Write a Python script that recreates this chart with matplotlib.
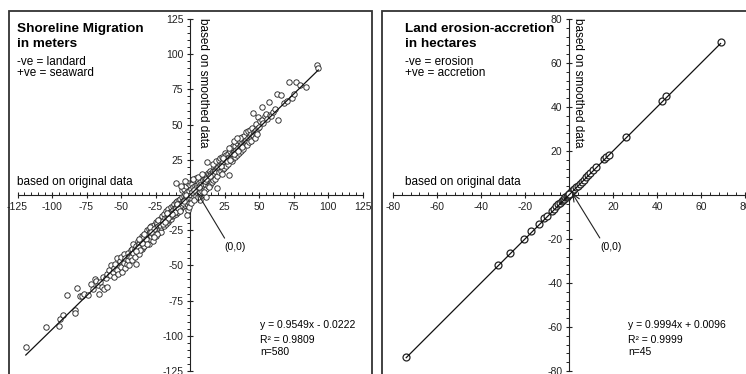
import matplotlib
matplotlib.use("Agg")
import matplotlib.pyplot as plt
from matplotlib.patches import Rectangle
from matplotlib.ticker import FixedLocator
import numpy as np

plt.rcParams['font.family'] = ['Liberation Sans', 'DejaVu Sans']

# shoreline migration (m): original data (x) vs smoothed data (y)
shore_x = [
    -119, -104, -95, -94, -92, -89, -83, -83, -82, -80,
    -78, -77, -74, -72, -70, -69, -68, -67, -66, -65, -64, -63, -62, -61, -60, -60,
    -59, -58, -57, -56, -55, -55, -54, -53, -53, -52,
    -51, -50, -50, -49, -48, -48, -47, -47, -46, -45,
    -45, -44, -44, -43, -43, -42, -42, -41, -41, -40, -40,
    -39, -39, -38, -38, -37, -37, -36, -36, -35, -35,
    -34, -34, -33, -33, -32, -32, -31, -31, -30, -30,
    -30, -29, -29, -28, -28, -27, -27, -26, -26, -25,
    -25, -25, -24, -24, -23, -23, -22, -22, -21, -21,
    -20, -20, -38, -36, -34, -32, -31, -29, -27, -26,
    -24, -23, -21, -35, -33, -28, -22, -37, -39, -26,
    -19.5, -19.2, -18.8, -18.1, -17.7, -17.4, -16.9, -16.3, -16.0, -15.6,
    -15.2, -14.8, -14.3, -13.9, -13.5, -13.1, -12.7, -12.4, -12.0, -11.6,
    -11.3, -10.9, -10.5, -10.2, -9.8, -9.5, -9.1, -8.8, -8.4, -8.1,
    -10.0, -7.7, -7.4, -7.0, -6.7, -6.3, -6.0, -5.7, -5.3, -5.0,
    -4.7, -4.3, -4.0, -3.6, -3.3, -2.9, -2.6, -2.2, -1.9, -1.6,
    -1.2, -0.9, -0.5, -0.2, -19.8, -17.0, -14.6, -12.2, -9.9, -7.5,
    -5.1, -2.8, -1.4, -0.6, -3.9, -6.4, -11.0, -15.9, -18.4, -13.2,
    -8.6, -4.5, -2.1, -0.3, -16.6, -9.3, -6.9, -3.0,
    0.4, 0.8, 1.1, 1.5, 1.9, 2.3, 2.6, 3.0, 3.4, 3.7,
    4.1, 4.5, 4.8, 5.2, 5.6, 5.9, 6.3, 6.7, 7.0, 7.4,
    7.8, 8.1, 8.5, 8.9, 9.2, 9.6, 10.0, 10.3, 10.7, 11.1,
    11.4, 11.8, 12.2, 12.5, 12.9, 13.3, 13.6, 14.0, 14.4, 14.7,
    15.1, 15.5, 15.8, 16.2, 16.6, 16.9, 17.3, 17.7, 18.0, 18.4,
    18.8, 19.1, 19.5, 19.9, 12.0, 19.5, 2.1, 5.5, 8.8, 0.9,
    3.2, 6.0, 9.9, 13.8, 16.4, 18.6, 1.4, 4.6, 7.6, 10.6,
    13.0, 15.9, 17.9, 2.8, 6.5, 11.5, 14.3, 19.7,
    20.3, 20.7, 21.1, 21.6, 22.0, 22.4, 22.9, 23.3, 23.7, 24.2,
    24.6, 25.0, 25.5, 25.9, 26.3, 26.8, 27.2, 27.6, 28.1, 28.5,
    28.9, 29.4, 29.8, 30.2, 30.7, 31.1, 31.5, 32.0, 32.4, 32.8,
    33.3, 33.7, 34.1, 34.6, 35.0, 35.4, 35.9, 36.3, 36.7, 37.2,
    37.6, 38.0, 38.5, 38.9, 39.3, 39.8, 24.0, 32.2, 36.1, 22.2,
    26.6, 29.1, 31.9, 34.8, 37.9, 23.5, 27.9, 33.9,
    40.4, 40.9, 41.3, 41.8, 42.3, 42.7, 43.2, 43.6, 44.1, 44.5,
    45.0, 45.4, 45.9, 46.3, 46.8, 47.2, 47.7, 48.1, 48.6, 49.0,
    49.5, 50.0, 51.0, 52.0, 52.5, 53.0, 54.0, 55.2, 56.0, 57.2,
    58.0, 59.0, 60.0, 61.5,
    63, 64, 66, 68, 70, 72, 74, 75, 77, 80, 84, 92, 93,
]
shore_y = [
    -108, -94, -93, -88, -85, -71, -82, -84, -66, -72,
    -72, -70, -71, -63, -67, -60, -61, -64, -70, -62, -65, -58, -67, -59, -65, -56,
    -53, -57, -50, -55, -52, -58, -49, -45, -53, -56,
    -47, -51, -44, -55, -48, -42, -45, -52, -49, -41,
    -46, -43, -50, -39, -44, -38, -46, -41, -35, -44, -38,
    -49, -36, -40, -33, -35, -42, -36, -31, -38, -29,
    -33, -37, -30, -36, -27, -34, -31, -25, -28, -35,
    -24, -26, -31, -22, -29, -24, -33, -21, -27, -29,
    -23, -19, -25, -20, -22, -27, -17, -24, -20, -26,
    -15, -22, -37, -39, -30, -31, -35, -23, -28, -24,
    -28, -18, -23, -34, -28, -26, -21, -31, -40, -30,
    -18.2, -13.4, -22.1, -16.5, -20.8, -11.6, -15.3, -19.2, -9.8, -14.1,
    -17.6, -12.3, -12.9, -16.8, -8.7, -11.4, -15.2, -7.9, -10.6, -14.4,
    -6.3, -9.5, -13.7, -5.1, -8.4, -11.9, -4.2, -7.7, -12.2, -3.6,
    8.3, -6.9, -10.4, -2.8, -5.6, -9.3, -1.7, 3.4, -4.6, -8.1,
    -0.9, 4.6, -3.3, -7.2, 0.4, 6.1, -2.4, -6.5, 1.8, 8.7,
    -1.5, -5.3, 2.7, 7.4, -20.6, -17.9, -14.8, -12.5, -9.2, -7.8,
    -5.6, -3.1, -10.8, -8.7, 10.2, 6.3, -11.8, -16.2, -18.9, -13.6,
    -9.1, -4.4, -13.9, -2.2, -12.7, -6.1, -11.3, -0.2,
    0.2, 4.3, -2.9, 8.1, 1.3, 5.4, -1.7, 10.9, 2.6, 6.2,
    -0.8, 12.1, 3.2, 7.3, 0.6, 10.2, 4.4, 8.5, 1.9, -3.6,
    5.7, 9.6, 2.8, 12.4, 6.4, 10.8, 3.7, 14.2, 7.9, 11.6,
    4.6, -1.5, 9.4, 13.3, 6.1, 15.6, 10.5, 14.7, 7.2, 17.2,
    11.8, 15.9, 9.1, 13.2, 17.4, 10.3, 19.8, 14.6, 18.1, 11.7,
    15.8, 20.3, 13.4, 22.6, 23.4, 5.0, 11.6, 12.8, 14.9, -5.6,
    -3.8, -1.2, 1.8, 5.4, 21.7, 24.1, 2.1, 4.9, 7.4, 10.1,
    12.3, 14.8, 17.2, 3.3, 6.0, 11.2, 13.6, 18.9,
    19.6, 24.8, 16.2, 21.3, 26.1, 17.4, 22.6, 27.3, 18.5, 23.4,
    19.2, 30.1, 24.6, 28.2, 20.4, 25.7, 29.4, 21.8, 26.9, 14.3,
    31.2, 27.8, 33.1, 24.3, 29.4, 26.2, 34.6, 30.7, 35.1, 26.8,
    31.9, 28.6, 36.8, 33.2, 38.9, 30.1, 34.5, 38.2, 31.4, 35.8,
    40.9, 36.7, 32.9, 37.4, 42.1, 38.3, 26.2, 38.4, 40.3, 20.9,
    23.8, 25.2, 29.3, 31.6, 34.2, 14.6, 33.6, 40.7,
    39.1, 44.6, 35.2, 40.4, 45.7, 37.3, 41.9, 46.2, 38.7, 43.1,
    47.8, 42.6, 58.1, 44.8, 40.2, 45.7, 50.3, 46.4, 43.1, 47.9,
    55.6, 48.6, 52.8, 62.8, 53.6, 51.1, 56.2, 57.4, 53.9, 66.1,
    56.9, 55.8, 58.7, 60.9,
    72, 53, 71, 65, 67, 80, 69, 72, 80, 78, 77, 92, 90,
]

# land erosion-accretion (ha)
land_x = [-74.0, -32.3, -26.8, -20.6, -17.1, -13.6, -11.2, -10.1, -7.6, -6.6,
          -5.7, -4.8, -4.0, -3.3, -2.7, -2.1, -1.6, -1.1, -0.7, -0.3,
          0.0, 0.3, 0.6, 0.9, 1.3, 1.8, 2.4, 3.1, 3.9, 4.8,
          5.7, 6.6, 7.6, 8.5, 9.6, 10.7, 12.1, 15.8, 16.9, 18.0,
          26.0, 42.1, 44.3, 68.9, 0.15]
land_y = [-73.6, -31.8, -26.2, -19.9, -16.4, -13.0, -10.5, -9.6, -7.1, -6.2,
          -5.2, -4.3, -3.6, -2.9, -2.3, -1.7, -1.1, -0.8, -0.4, 0.1,
          0.3, 0.5, 0.9, 1.2, 1.6, 2.1, 2.8, 3.5, 4.3, 5.2,
          6.1, 7.0, 8.0, 8.9, 10.1, 11.2, 12.6, 16.3, 17.5, 18.4,
          26.5, 42.6, 44.9, 69.6, 0.4]

shore_fit = (0.9549, -0.0222)
land_fit = (0.9994, 0.0096)

W, H = 746, 374
fig = plt.figure(figsize=(W / 100, H / 100), dpi=100)

arrow = dict(arrowstyle='->,head_length=0.7,head_width=0.3', lw=0.8,
             color='#222222', relpos=(0.1, 1.0), shrinkA=1, shrinkB=0)


def make_panel(frame, origin, scale, lim, step, minor_step):
    x0, y0, x1, y1 = frame
    ox, oy = origin
    ax = fig.add_axes([x0 / W, 1 - y1 / H, (x1 - x0) / W, (y1 - y0) / H])
    ax.set_xlim((x0 - ox) / scale[0], (x1 - ox) / scale[0])
    ax.set_ylim((oy - y1) / scale[1], (oy - y0) / scale[1])
    for s in ['top', 'right']:
        ax.spines[s].set_visible(False)
    for s in ['left', 'bottom']:
        ax.spines[s].set_position(('data', 0))
        ax.spines[s].set_bounds(-lim, lim)
        ax.spines[s].set_linewidth(0.8)
        ax.spines[s].set_color('#222222')
    major = [v for v in np.arange(-lim, lim + 1, step) if v != 0]
    minor = list(np.arange(-lim, lim + 1, minor_step))
    for axis in [ax.xaxis, ax.yaxis]:
        axis.set_major_locator(FixedLocator(major))
        axis.set_minor_locator(FixedLocator(minor))
        axis.set_major_formatter(plt.FuncFormatter(lambda v, p: f"{v:g}"))
    ax.tick_params(which='major', direction='inout', length=4.5, width=0.8,
                   labelsize=7.5, pad=2.5, colors='#222222')
    ax.tick_params(axis='x', which='minor', direction='in', length=2, width=0.6)
    ax.tick_params(axis='y', which='minor', direction='out', length=2, width=0.6)
    ax.patch.set_alpha(0)
    ax.add_patch(Rectangle((0, 0), 1, 1, transform=ax.transAxes, fill=False,
                           lw=1.3, ec='#333333', clip_on=False))
    return ax


# left panel
ax1 = make_panel((9, 11, 372, 382), (190, 195), (1.38, 1.408), 125, 25, 5)
ax1.plot(shore_x, shore_y, 'o', ms=3.9, mfc='white', mec='#2a2a2a', mew=0.65, zorder=3)
lx = np.array([min(shore_x), max(shore_x)])
ax1.plot(lx, shore_fit[0] * lx + shore_fit[1], color='#111111', lw=0.9, zorder=4)

ax1.text(-125.4, 115.8, "Shoreline Migration", fontsize=9.7, fontweight='bold')
ax1.text(-125.4, 105.1, "in meters", fontsize=9.7, fontweight='bold')
ax1.text(-125.4, 92.3, "-ve = landard", fontsize=8.5)
ax1.text(-125.4, 84.5, "+ve = seaward", fontsize=8.5)
ax1.text(-125.4, 7.1, "based on original data", fontsize=8.5)
ax1.text(5, 125.5, "based on smoothed data", fontsize=8.5, rotation=-90,
         ha='left', va='top')
ax1.text(50.7, -94.5, "y = 0.9549x - 0.0222", fontsize=7.5)
ax1.text(50.7, -105.2, "R² = 0.9809", fontsize=7.5)
ax1.text(50.7, -113.8, "n=580", fontsize=7.5)
ax1.annotate("(0,0)", xy=(5, 2), xytext=(33, -37), fontsize=7.5,
             ha='center', va='center', arrowprops=arrow, zorder=6)

# right panel
ax2 = make_panel((382, 11, 752, 382), (569, 195), (2.2, 2.2), 80, 20, 4)
ax2.plot(land_x, land_y, 'o', ms=5, mfc='white', mec='#222222', mew=0.9, zorder=3)
rx = np.array([min(land_x), max(land_x)])
ax2.plot(rx, land_fit[0] * rx + land_fit[1], color='#111111', lw=0.9, zorder=4)

ax2.text(-74.5, 74.1, "Land erosion-accretion", fontsize=9.7, fontweight='bold')
ax2.text(-74.5, 67.3, "in hectares", fontsize=9.7, fontweight='bold')
ax2.text(-74.5, 59.1, "-ve = erosion", fontsize=8.5)
ax2.text(-74.5, 54.1, "+ve = accretion", fontsize=8.5)
ax2.text(-74.5, 4.5, "based on original data", fontsize=8.5)
ax2.text(1.5, 80.6, "based on smoothed data", fontsize=8.5, rotation=-90,
         ha='left', va='top')
ax2.text(26.8, -60.5, "y = 0.9994x + 0.0096", fontsize=7.5)
ax2.text(26.8, -67.4, "R² = 0.9999", fontsize=7.5)
ax2.text(26.8, -72.8, "n=45", fontsize=7.5)
ax2.annotate("(0,0)", xy=(1.4, 0.9), xytext=(19, -23.6), fontsize=7.5,
             ha='center', va='center', arrowprops=arrow, zorder=6)

fig.savefig("out.png", dpi=100)
